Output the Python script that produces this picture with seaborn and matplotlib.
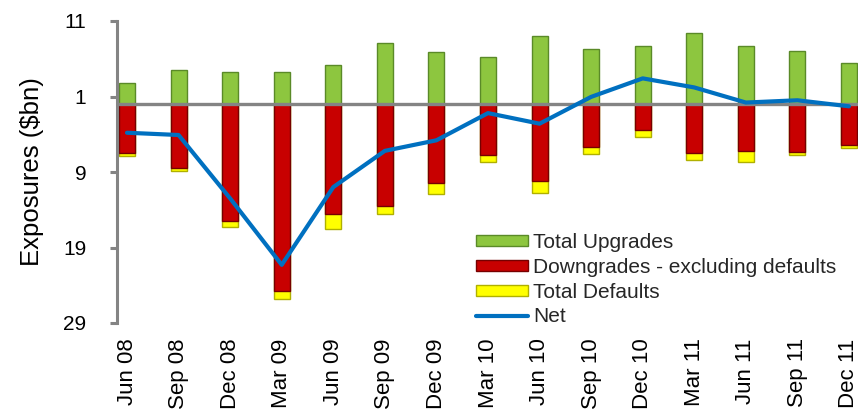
import matplotlib
matplotlib.use("Agg")
import matplotlib.pyplot as plt
from matplotlib.patches import Patch
from matplotlib.lines import Line2D
import numpy as np
import pandas as pd
import seaborn as sns

# Quarterly rating migration of exposures ($bn)
periods = ["Jun 08", "Sep 08", "Dec 08", "Mar 09", "Jun 09", "Sep 09", "Dec 09",
           "Mar 10", "Jun 10", "Sep 10", "Dec 10", "Mar 11", "Jun 11", "Sep 11", "Dec 11"]
upgrades = [2.8, 4.5, 4.25, 4.25, 5.2, 8.1, 6.9, 6.2, 9.0, 7.3, 7.7, 9.4, 7.7, 7.0, 5.4]
downgrades = [6.5, 8.5, 15.5, 24.7, 14.6, 13.5, 10.5, 6.7, 10.2, 5.7, 3.4, 6.5, 6.2, 6.3, 5.4]
defaults = [0.4, 0.4, 0.8, 1.1, 2.0, 1.0, 1.4, 1.0, 1.6, 0.9, 1.0, 0.9, 1.5, 0.5, 0.4]
net = [-3.8, -4.1, -12.5, -21.3, -11.0, -6.2, -4.8, -1.2, -2.6, 0.95, 3.4, 2.2, 0.2, 0.5, -0.3]

y_ticks = [11, 1, -9, -19, -29]
y_tick_labels = ["11", "1", "9", "19", "29"]

series_names = ["Total Upgrades", "Downgrades - excluding defaults", "Total Defaults", "Net"]

GREEN = "#8DC63F"
GREEN_EDGE = "#5A8A28"
RED = "#C80000"
RED_EDGE = "#760000"
YELLOW = "#FFFF00"
YELLOW_EDGE = "#B0B000"
BLUE = "#0070C0"
GREY = "#848484"

df = pd.DataFrame({
    "period": periods,
    "pos": np.arange(len(periods)),
    "up": upgrades,
    "down": -np.array(downgrades),
    "down_def": -(np.array(downgrades) + np.array(defaults)),
    "net": net,
})

sns.set_theme(style="ticks")
plt.rcParams["font.family"] = ["Liberation Sans", "DejaVu Sans"]

fig = plt.figure(figsize=(8.61, 4.13), dpi=100)
ax = fig.add_axes([117 / 861, 90 / 413, (858 - 117) / 861, (323 - 21) / 413])

bar_w = 0.31
edge_w = 1.0
# Negative side: defaults sit below downgrades, so draw the combined length first
sns.barplot(data=df, x="period", y="down_def", color=YELLOW, saturation=1,
            width=bar_w, edgecolor=YELLOW_EDGE, linewidth=edge_w, ax=ax, zorder=2)
sns.barplot(data=df, x="period", y="down", color=RED, saturation=1,
            width=bar_w, edgecolor=RED_EDGE, linewidth=edge_w, ax=ax, zorder=2)
sns.barplot(data=df, x="period", y="up", color=GREEN, saturation=1,
            width=bar_w, edgecolor=GREEN_EDGE, linewidth=edge_w, ax=ax, zorder=2)

ax.axhline(0, color=GREY, lw=2.4, zorder=3)

sns.lineplot(data=df, x="pos", y="net", color=BLUE, lw=3.0, sort=False,
             ax=ax, zorder=4)

ax.set_ylim(-29, 11)
ax.set_xlim(-10 / 51.57, 14 + 9 / 51.57)
ax.set_yticks(y_ticks)
ax.set_yticklabels(y_tick_labels)
ax.set_xticks(df["pos"])
ax.set_xticklabels(periods, rotation=90, va="top", ha="center")

for side in ["top", "right", "bottom"]:
    ax.spines[side].set_visible(False)
ax.spines["left"].set_color(GREY)
ax.spines["left"].set_linewidth(2.2)

ax.tick_params(axis="y", direction="out", length=5, width=2.2, color=GREY,
               pad=17, labelsize=15, labelcolor="black")
ax.tick_params(axis="x", length=0, pad=11, labelsize=16, labelcolor="black")

ax.set_xlabel("")
ax.set_ylabel("Exposures (\\$bn)", fontsize=18.5, labelpad=14, color="black")

handles = [
    Patch(facecolor=GREEN, edgecolor=GREEN_EDGE, linewidth=edge_w),
    Patch(facecolor=RED, edgecolor=RED_EDGE, linewidth=edge_w),
    Patch(facecolor=YELLOW, edgecolor=YELLOW_EDGE, linewidth=edge_w),
    Line2D([0], [0], color=BLUE, lw=3.0),
]
fig.legend(handles, series_names, loc="upper left",
           bbox_to_anchor=(476 / 861, 1 - 233 / 413), frameon=False,
           fontsize=15, handlelength=2.5, handleheight=0.45,
           handletextpad=0.25, labelspacing=0.28, borderpad=0,
           borderaxespad=0)

fig.savefig("out.png", dpi=100)
